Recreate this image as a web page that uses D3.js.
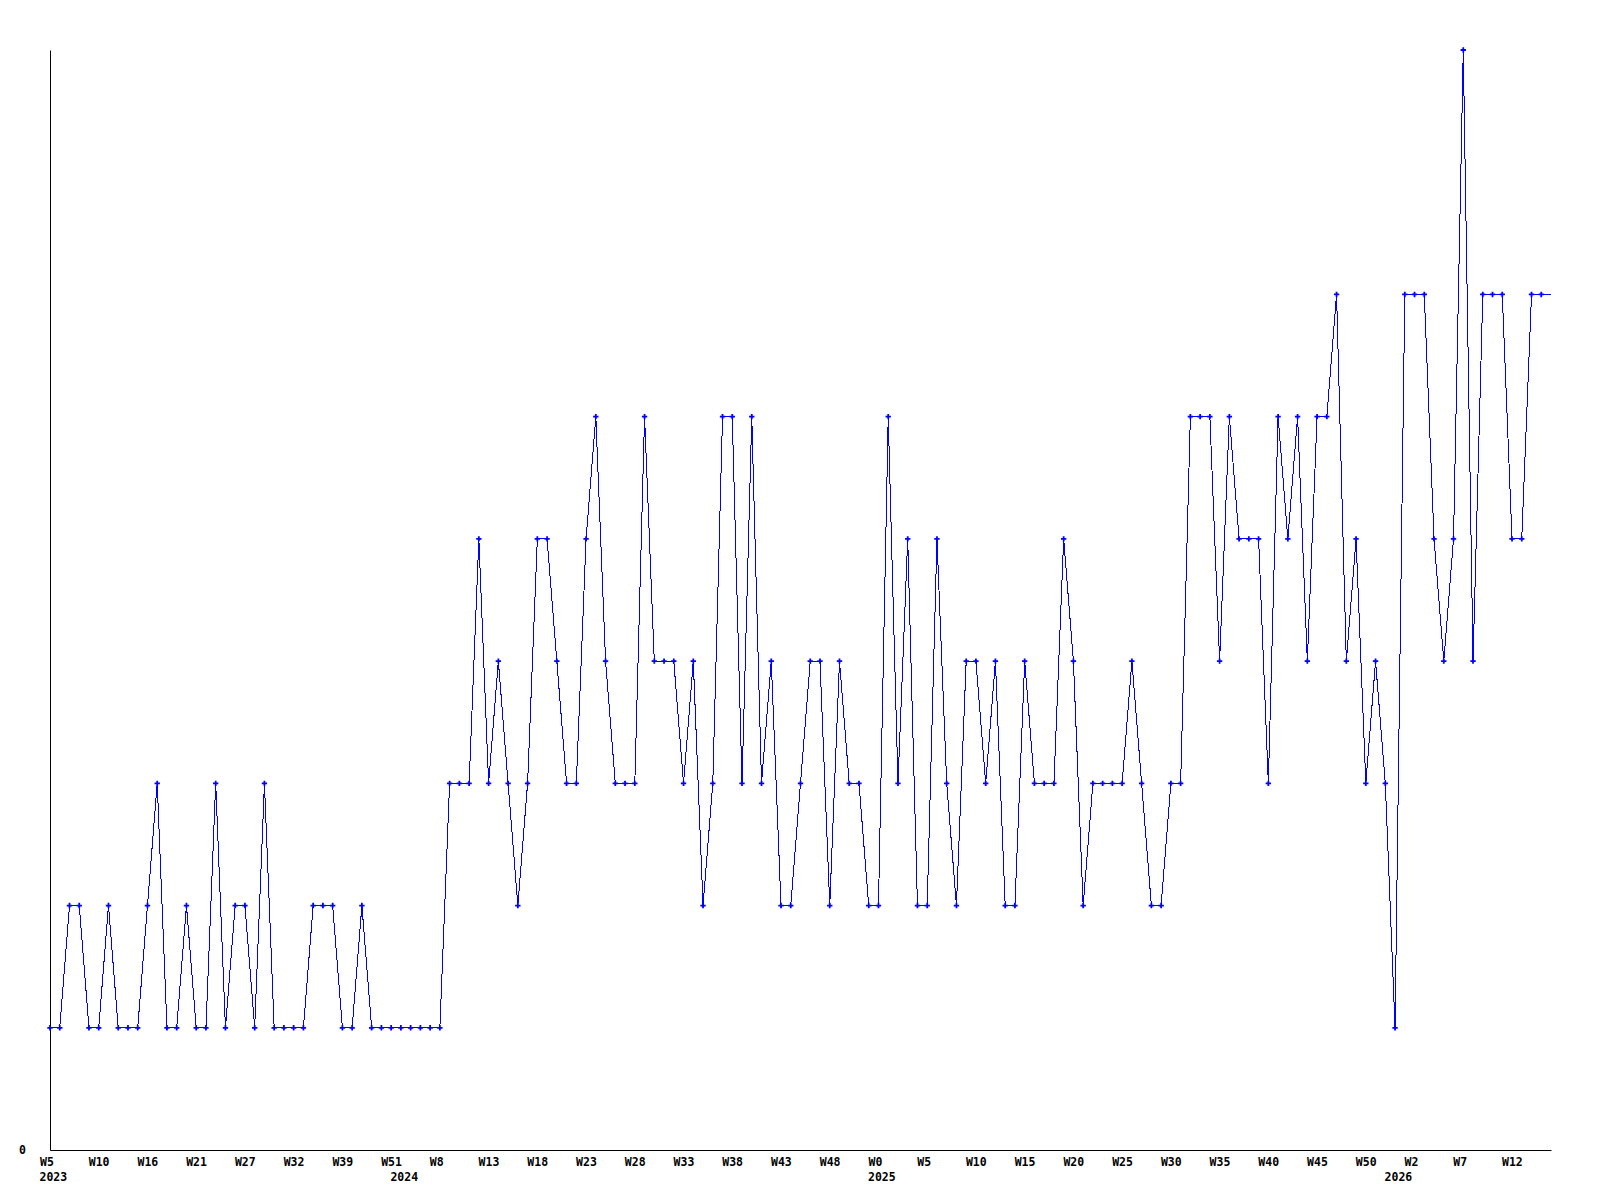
<!DOCTYPE html>
<html>
<head>
<meta charset="utf-8">
<script src="https://cdn.jsdelivr.net/npm/d3@7"></script>
<style>
  body { margin: 0; background: #fff; }
</style>
</head>
<body>
<svg id="chart" width="1600" height="1200"></svg>
<script>
// weekly values, the last one is the open week (line only, no marker)
var values = [
  1,1,2,2,1,1,2,1,1,1, 2,3,1,1,2,1,1,3,1,2, 2,1,3,1,1,1,1,2,2,2, 1,1,2,1,1,1,1,1,1,1,
  1,3,3,3,5,3,4,3,2,3, 5,5,4,3,3,5,6,4,3,3, 3,6,4,4,4,3,4,2,3,6, 6,3,6,3,4,2,2,3,4,4,
  2,4,3,3,2,2,6,3,5,2, 2,5,3,2,4,4,3,4,2,2, 4,3,3,3,5,4,2,3,3,3, 3,4,3,2,2,3,3,6,6,6,
  4,6,5,5,5,3,6,5,6,4, 6,6,7,4,5,3,4,3,1,7, 7,7,5,4,5,9,4,7,7,7, 5,5,7,7,7
];

var weekLabels = ["W5","W10","W16","W21","W27","W32","W39","W51","W8","W13","W18",
  "W23","W28","W33","W38","W43","W48","W0","W5","W10","W15","W20","W25","W30",
  "W35","W40","W45","W50","W2","W7","W12"];
var weekStep = 5;

var yearLabels = ["2023","2024","2025","2026"];
var yearIndex = [0, 36, 85, 138];

var yMax = 9;

var svg = d3.select("#chart"),
    margin = {top: 50, right: 49, bottom: 50, left: 50},
    width = +svg.attr("width") - margin.left - margin.right,
    height = +svg.attr("height") - margin.top - margin.bottom,
    g = svg.append("g").attr("transform", "translate(" + margin.left + "," + margin.top + ")");

var x = d3.scaleLinear().domain([0, values.length - 1]).range([0, width]);
var y = d3.scaleLinear().domain([0, yMax]).range([height, 0]);

var font = "'DejaVu Sans Mono', 'Liberation Mono', monospace";

var xAxis = d3.axisBottom(x)
    .tickValues(weekLabels.map(function(d, i) { return i * weekStep; }))
    .tickFormat(function(d, i) { return weekLabels[i]; })
    .tickSize(0);

var yAxis = d3.axisLeft(y)
    .tickValues([0])
    .tickFormat(d3.format("d"))
    .tickSize(0);

g.append("g")
    .attr("transform", "translate(0," + height + ")")
    .call(customXAxis);

g.append("g")
    .call(customYAxis);

// year labels under the week labels
g.append("g").selectAll("text")
    .data(yearLabels)
  .enter().append("text")
    .attr("x", function(d, i) { return x(yearIndex[i]) - 10.5; })
    .attr("y", height + 31)
    .attr("fill", "#000")
    .attr("font-family", font)
    .attr("font-weight", "bold")
    .attr("font-size", "11.5px")
    .text(function(d) { return d; });

var line = d3.line()
    .x(function(d, i) { return x(i); })
    .y(function(d) { return y(d); });

g.append("path")
    .datum(values)
    .attr("fill", "none")
    .attr("stroke", "#0000ff")
    .attr("stroke-width", 1)
    .attr("shape-rendering", "crispEdges")
    .attr("d", line);

g.append("g").selectAll("path")
    .data(values.slice(0, values.length - 1))
  .enter().append("path")
    .attr("transform", function(d, i) { return "translate(" + x(i) + "," + y(d) + ")"; })
    .attr("d", d3.symbol().type(d3.symbolCross).size(16))
    .attr("fill", "#0000ff");

function customXAxis(g) {
  g.call(xAxis);
  g.select(".domain").attr("stroke", "#000").attr("stroke-width", 1);
  g.selectAll(".tick text")
      .attr("y", 16)
      .attr("dy", null)
      .attr("x", -10.5)
      .attr("fill", "#000")
      .attr("font-family", font)
      .attr("font-weight", "bold")
      .attr("font-size", "11.5px")
      .style("text-anchor", "start");
  g.attr("font-size", null).attr("font-family", null);
}

function customYAxis(g) {
  g.call(yAxis);
  g.select(".domain").attr("stroke", "#000").attr("stroke-width", 1);
  g.selectAll(".tick text")
      .attr("x", -24)
      .attr("dy", "0.32em")
      .attr("fill", "#000")
      .attr("font-family", font)
      .attr("font-weight", "bold")
      .attr("font-size", "11.5px")
      .style("text-anchor", "end");
}
</script>
</body>
</html>
